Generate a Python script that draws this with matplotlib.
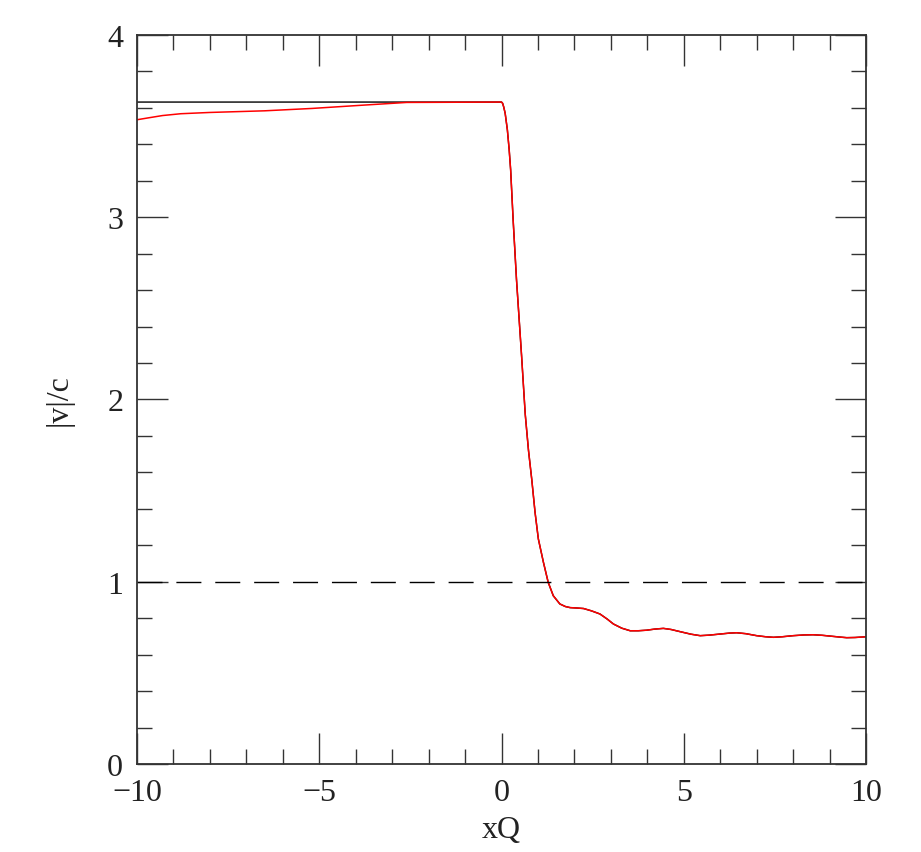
import matplotlib
matplotlib.use("Agg")
import matplotlib.pyplot as plt
from matplotlib.ticker import MultipleLocator

# black curve (|v|/c against xQ)
x_black = [-10, 0, 0.03, 0.06, 0.1, 0.16, 0.21, 0.25, 0.32, 0.41, 0.55, 0.65, 0.74,
           0.83, 0.92, 1.01, 1.15, 1.28, 1.42, 1.6, 1.75, 1.88, 2.05, 2.25, 2.47,
           2.7, 2.9, 3.07, 3.3, 3.53, 3.75, 3.98, 4.2, 4.44, 4.65, 4.9, 5.2, 5.45,
           5.7, 6.0, 6.25, 6.45, 6.7, 7.0, 7.25, 7.46, 7.7, 8.0, 8.3, 8.55, 8.8,
           9.1, 9.3, 9.47, 9.7, 10]
v_black = [3.632, 3.632, 3.625, 3.605, 3.57, 3.48, 3.37, 3.26, 2.98, 2.66, 2.24, 1.92, 1.72,
           1.56, 1.38, 1.235, 1.106, 0.997, 0.923, 0.878, 0.864, 0.858, 0.856, 0.853, 0.84,
           0.823, 0.795, 0.768, 0.745, 0.731, 0.731, 0.734, 0.74, 0.744, 0.738, 0.726, 0.712, 0.704,
           0.707, 0.713, 0.718, 0.72, 0.715, 0.704, 0.698, 0.695, 0.698, 0.704, 0.708, 0.709, 0.706,
           0.70, 0.696, 0.693, 0.694, 0.698]

# red curve: differs only on the left side
x_red_left = [-10, -9.7, -9.3, -8.8, -8.0, -7.5, -6.5, -5.2, -3.8, -2.6]
v_red_left = [3.535, 3.545, 3.558, 3.568, 3.575, 3.578, 3.584, 3.597, 3.615, 3.63]
x_red = x_red_left + x_black[1:]
v_red = v_red_left + v_black[1:]

plt.rcParams['font.family'] = ['Liberation Serif', 'DejaVu Serif']

fig = plt.figure(figsize=(9.21, 8.53), dpi=100)
ax = fig.add_axes([0.1488, 0.1032, 0.7915, 0.8546])

ax.plot(x_black, v_black, color='black', lw=1.0)
ax.plot(x_red, v_red, color='red', lw=1.1)
ax.axhline(1.0, color='black', lw=1.0, dashes=(18, 10))

ax.set_xlim(-10, 10)
ax.set_ylim(0, 4)
ax.xaxis.set_major_locator(MultipleLocator(5))
ax.xaxis.set_minor_locator(MultipleLocator(1))
ax.yaxis.set_major_locator(MultipleLocator(1))
ax.yaxis.set_minor_locator(MultipleLocator(0.2))
ax.tick_params(which='both', direction='in', top=True, right=True, width=1.0,
               labelsize=23, color='#333333', labelcolor='#222222')
ax.tick_params(which='major', length=22, pad=10)
ax.tick_params(which='minor', length=11)
for s in ax.spines.values():
    s.set_linewidth(1.3)
    s.set_color('#333333')

ax.set_xlabel('xQ', fontsize=23, labelpad=6, color='#222222')
ax.set_ylabel('|v|/c', fontsize=23, labelpad=24, color='#222222')

plt.savefig('out.png', dpi=100)
plt.close()
